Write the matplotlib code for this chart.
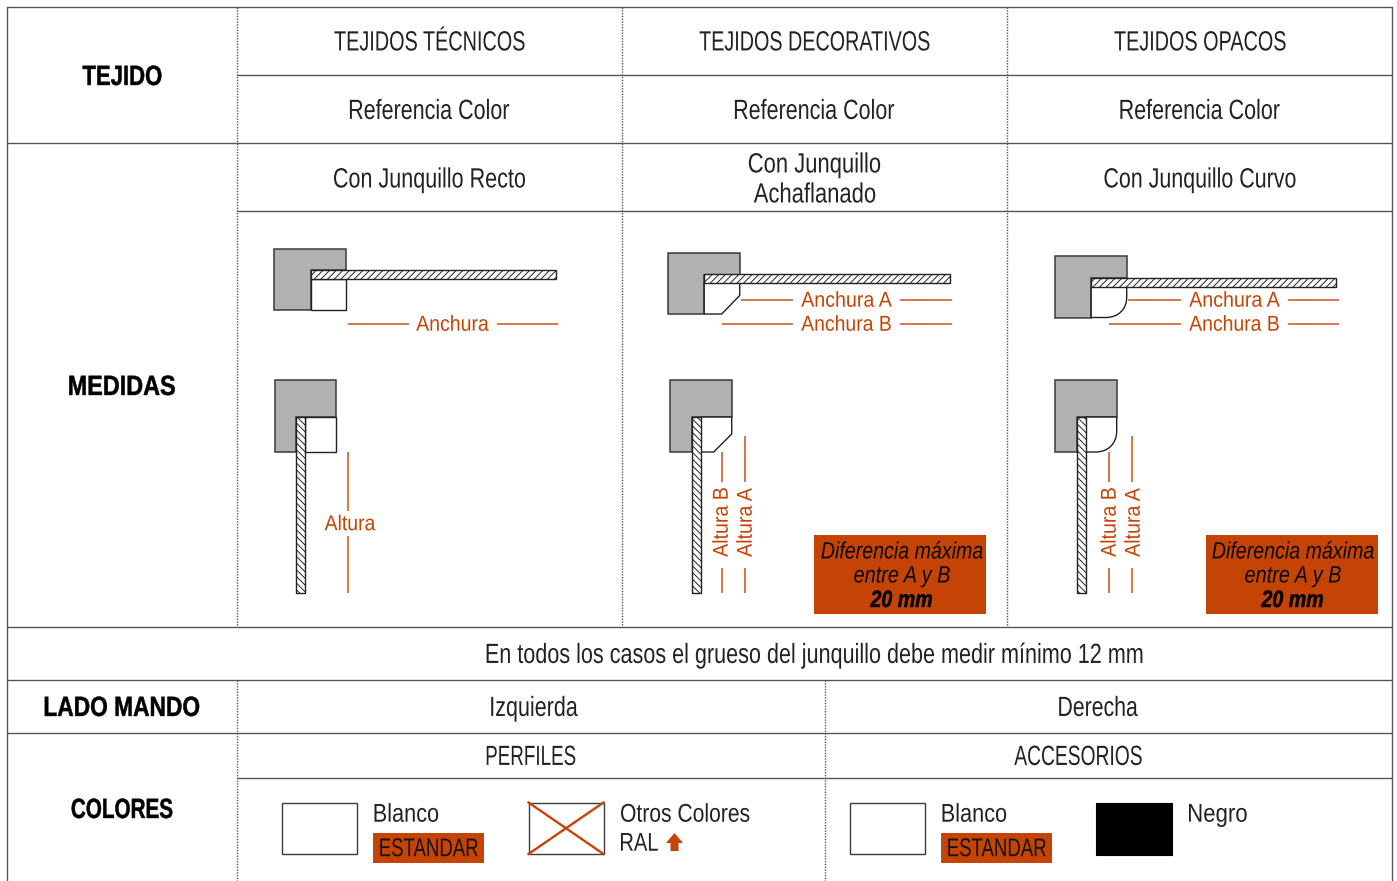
import matplotlib
matplotlib.use("Agg")
import matplotlib.pyplot as plt
from matplotlib.patches import Polygon, Rectangle, PathPatch
from matplotlib.path import Path
from matplotlib.text import Text
from matplotlib.textpath import TextPath
from matplotlib.transforms import Affine2D, Bbox
from matplotlib.colors import to_rgba

plt.rcParams['font.family'] = ['Liberation Sans', 'DejaVu Sans']
plt.rcParams['hatch.linewidth'] = 0.7

ROW_HEADERS = ["TEJIDO", "MEDIDAS", "LADO MANDO", "COLORES"]
FABRICS = ["TEJIDOS TÉCNICOS", "TEJIDOS DECORATIVOS", "TEJIDOS OPACOS"]
COLOR_REF = "Referencia Color"
BEADS = ["Con Junquillo Recto", "Con Junquillo\nAchaflanado", "Con Junquillo Curvo"]
NOTE = "En todos los casos el grueso del junquillo debe medir mínimo 12 mm"
SIDES = ["Izquierda", "Derecha"]
GROUPS = ["PERFILES", "ACCESORIOS"]

ORANGE = "#c54405"
LINEORANGE = "#cf5f28"
GREY = "#b0b1b3"
INK = "#222222"
EDGE = "#3a3a3a"
GRID = "#555555"

fig = plt.figure(figsize=(13.97, 8.81), dpi=100)
ax = fig.add_axes([0, 0, 1, 1])
ax.set_xlim(0, 1397)
ax.set_ylim(881, 0)
ax.axis("off")


class CondensedText(Text):
    """A Text artist drawn in a horizontally condensed cut, fitted to a width in pixels."""

    def __init__(self, *args, fit=None, spacing=30, **kw):
        super().__init__(*args, **kw)
        self._fit = fit
        self._spacing = spacing

    def _lines(self):
        px = self.get_fontsize() * self.figure.dpi / 72
        fp = self.get_fontproperties()
        paths = [TextPath((0, 0), s, size=px, prop=fp) for s in self.get_text().split("\n")]
        ext = [p.get_extents() for p in paths]
        natural = max(e.width for e in ext)
        sx = (self._fit * 0.995 / natural) if self._fit else 1.0
        return px, paths, ext, sx

    def _transforms(self):
        px, paths, ext, sx = self._lines()
        x, y = self.get_transform().transform(self.get_unitless_position())
        n = len(paths)
        out = []
        for i, (p, e) in enumerate(zip(paths, ext)):
            if self.get_ha() == "center":
                dx = -(e.x0 + e.x1) / 2 * sx
            else:
                dx = -e.x0 * sx
            dy = -0.358 * px + 1 + ((n - 1) / 2 - i) * self._spacing
            tr = (Affine2D().scale(sx, 1).translate(dx, dy)
                  .rotate_deg(self.get_rotation()).translate(x, y))
            out.append((p, tr))
        return out

    def draw(self, renderer):
        if not self.get_visible() or not self.get_text():
            return
        gc = renderer.new_gc()
        gc.set_foreground(self.get_color())
        gc.set_linewidth(0.35 if self.get_weight() == "bold" else 0)
        for p, tr in self._transforms():
            renderer.draw_path(gc, p, tr, rgbFace=to_rgba(self.get_color()))
        gc.restore()
        self.stale = False

    def get_window_extent(self, renderer=None, dpi=None):
        boxes = [p.get_extents(tr) for p, tr in self._transforms()]
        return Bbox.union(boxes)


def hl(y, x0=6.5, x1=1391.5):
    ax.plot([x0, x1], [y, y], color=GRID, lw=1.0, solid_capstyle="butt", zorder=1)


def vl(x, y0, y1):
    ax.plot([x, x], [y0, y1], color=GRID, lw=1.0, ls=(0, (1, 1)), zorder=1)


def txt(x, y, s, fit=None, size=20, color=INK, ha="center", spacing=30, zorder=5, **kw):
    t = CondensedText(x, y, s, fit=fit, spacing=spacing, fontsize=size, color=color, ha=ha,
                      va="center", transform=ax.transData, zorder=zorder, **kw)
    ax.add_artist(t)
    return t


def seg(xs, ys, color=LINEORANGE, lw=1.2):
    ax.plot(xs, ys, color=color, lw=lw, solid_capstyle="butt", zorder=2)


def hatch(x0, y0, x1, y1, pattern):
    ax.add_patch(Rectangle((x0 - 0.5, y0 - 0.5), x1 - x0, y1 - y0, fc="white", ec="#222222",
                           lw=1.0, hatch=pattern, zorder=4))


def profile(x0, y0, x1, y1, ix, iy):
    pts = [(x0, y0), (x1, y0), (x1, iy), (ix, iy), (ix, y1), (x0, y1)]
    ax.add_patch(Polygon([(a - 0.3, b) for a, b in pts],
                         closed=True, fc=GREY, ec=EDGE, lw=1.1, zorder=3))


def bead(verts, codes=None):
    pts = [(a - 0.3, b) for a, b in verts]
    ax.add_patch(PathPatch(Path(pts, codes), fc="white", ec="#222222", lw=1.0, zorder=3))


# table grid
ax.plot([6.5, 6.5], [7, 881], color=GRID, lw=1.0)
ax.plot([1391.5, 1391.5], [7, 881], color=GRID, lw=1.0)
hl(6.5); hl(142.5); hl(626.5); hl(679.5); hl(732.5)
hl(74.5, 237); hl(210.5, 237); hl(777.5, 237)
vl(237, 7, 627); vl(237, 680, 881)
vl(622, 7, 627); vl(1007, 7, 627)
vl(825, 680, 881)

# row headers
for y, s, w in zip([76, 386, 707, 809], ROW_HEADERS, [79, 106, 155, 101]):
    txt(122, y, s, fit=w, weight="bold", color="#000000")

# columns
for x, fabric, fw, b, bw in zip([429.5, 814.5, 1200], FABRICS, [191, 231, 172], BEADS, [192, 132, 192]):
    txt(x, 41.5, fabric, fit=fw)
    txt(x, 110, COLOR_REF, fit=160)
    txt(x, 178.5, b, fit=bw)

txt(814.5, 654, NOTE, fit=659)
txt(534.5, 707, SIDES[0], fit=87)
txt(1098.5, 707, SIDES[1], fit=79)
txt(531, 756, GROUPS[0], fit=89)
txt(1078, 756, GROUPS[1], fit=128)

LBL = 15.5
# --- straight bead
profile(274.5, 248.5, 346.5, 310, 311, 270)
bead([(311, 279), (346.5, 279), (346.5, 310), (311, 310), (311, 279)])
hatch(311, 270.5, 556, 279.5, "/////")
seg([347.5, 409], [324, 324]); seg([497, 558], [324, 324])
txt(452.5, 324, "Anchura", fit=73, size=LBL, color=ORANGE)
profile(275, 380, 336, 452, 296.5, 417)
bead([(305, 417), (336, 417), (336, 452), (305, 452), (305, 417)])
hatch(296.5, 417, 305.5, 593, "\\\\\\\\\\")
seg([347.5, 347.5], [452, 511]); seg([347.5, 347.5], [536, 593])
txt(350, 523.5, "Altura", fit=51, size=LBL, color=ORANGE)

# --- chamfered bead
profile(668, 253, 740, 314, 704.5, 274.5)
bead([(704.5, 283), (740, 283), (740, 295.5), (722, 314), (704.5, 314), (704.5, 283)])
hatch(704.5, 274.5, 950, 283.5, "/////")
seg([741, 793], [300, 300]); seg([900, 952], [300, 300])
seg([722, 793], [324, 324]); seg([900, 952], [324, 324])
txt(846.5, 300, "Anchura A", fit=91, size=LBL, color=ORANGE)
txt(846, 324, "Anchura B", fit=90, size=LBL, color=ORANGE)
profile(670.5, 380, 732, 452, 692.5, 417)
bead([(701, 417), (732, 417), (732, 434), (714, 452), (701, 452), (701, 417)])
hatch(692.5, 417, 701.5, 593, "\\\\\\\\\\")
seg([722, 722], [452, 482]); seg([722, 722], [568, 593])
seg([745, 745], [436, 482]); seg([745, 745], [568, 593])
txt(721, 522.5, "Altura B", fit=69, size=LBL, color=ORANGE, rotation=90)
txt(745, 522.5, "Altura A", fit=69, size=LBL, color=ORANGE, rotation=90)

# --- curved bead
C = [Path.MOVETO, Path.LINETO, Path.LINETO, Path.CURVE4, Path.CURVE4, Path.CURVE4,
     Path.LINETO, Path.LINETO]
profile(1055, 256, 1127, 317.5, 1091.5, 278)
bead([(1091.5, 287), (1127, 287), (1127, 297), (1127, 310), (1118, 317.5), (1106, 317.5),
      (1091.5, 317.5), (1091.5, 287)], C)
hatch(1091.5, 278, 1336.5, 287, "/////")
seg([1128, 1181], [300, 300]); seg([1288, 1339], [300, 300])
seg([1109, 1181], [324, 324]); seg([1288, 1339], [324, 324])
txt(1234.5, 300, "Anchura A", fit=91, size=LBL, color=ORANGE)
txt(1234, 324, "Anchura B", fit=90, size=LBL, color=ORANGE)
profile(1055.5, 380, 1117, 452, 1077.5, 417)
bead([(1086, 417), (1117, 417), (1117, 431), (1117, 444), (1108, 452), (1096, 452),
      (1086, 452), (1086, 417)], C)
hatch(1077.5, 417, 1086.5, 593, "\\\\\\\\\\")
seg([1108.5, 1108.5], [452, 482]); seg([1108.5, 1108.5], [568, 593])
seg([1132, 1132], [436, 482]); seg([1132, 1132], [568, 593])
txt(1109, 522.5, "Altura B", fit=69, size=LBL, color=ORANGE, rotation=90)
txt(1133, 522.5, "Altura A", fit=69, size=LBL, color=ORANGE, rotation=90)

# --- tolerance boxes
for x0, xc in [(814, 902), (1206, 1293)]:
    ax.add_patch(Rectangle((x0, 535), 172, 79, fc=ORANGE, ec="none", zorder=2))
    txt(xc, 551, "Diferencia máxima", fit=162, size=17, style="italic", color="#0a0a0a")
    txt(xc, 575, "entre A y B", fit=96, size=17, style="italic", color="#0a0a0a")
    txt(xc - 1, 599.5, "20 mm", fit=62, size=17, style="italic", weight="bold", color="#000000")

# --- colour swatches
for x0, tx in [(282, 373.5), (850, 941.5)]:
    ax.add_patch(Rectangle((x0, 802.5), 75, 51.5, fc="white", ec=EDGE, lw=1.0))
    txt(tx + 1, 813.5, "Blanco", fit=64, size=18.5, ha="left")
    ax.add_patch(Rectangle((tx - 0.5, 833), 111, 30, fc=ORANGE, ec="none", zorder=2))
    txt(tx + 55.5, 848, "ESTANDAR", fit=98, size=18.5, color="#141414")

ax.add_patch(Rectangle((528.5, 802.5), 75, 51.5, fc="white", ec=EDGE, lw=1.0))
ax.plot([528.5, 603.5], [802.5, 854], color=ORANGE, lw=1.7, zorder=3)
ax.plot([528.5, 603.5], [854, 802.5], color=ORANGE, lw=1.7, zorder=3)
txt(621, 813.5, "Otros Colores", fit=129, size=18.5, ha="left")
txt(621, 842.5, "RAL", fit=37, size=18.5, ha="left")
ax.add_patch(Polygon([(674.5, 833), (683, 843), (678.5, 843), (678.5, 851), (670.5, 851),
                      (670.5, 843), (666, 843)], closed=True, fc=ORANGE, ec="none"))
ax.add_patch(Rectangle((1096, 802.5), 76, 52, fc="black", ec="black", lw=0.8))
txt(1189, 813.5, "Negro", fit=58, size=18.5, ha="left")

fig.savefig("out.png", dpi=100, facecolor="white")
